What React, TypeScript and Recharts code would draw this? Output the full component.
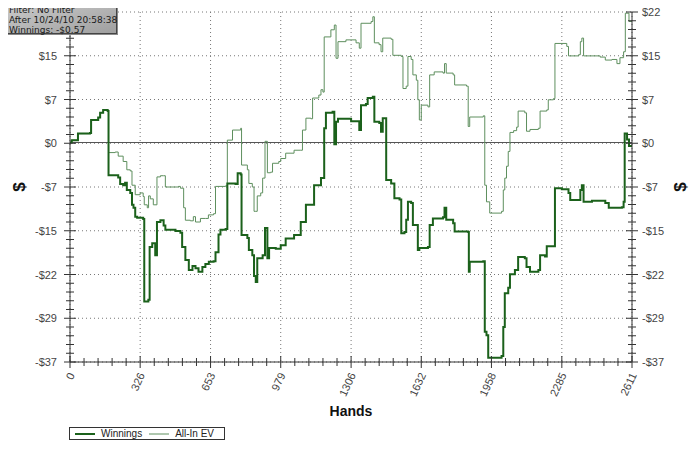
import { LineChart, Line, XAxis, YAxis, CartesianGrid, ReferenceLine, Legend } from "recharts";

// hands played vs running result
const winHands = [
  0, 8, 37, 93, 98, 131, 140, 154, 175, 179, 224, 233, 247, 256, 264, 280, 288, 295, 303, 312,
  340, 345, 364, 370, 382, 396, 404, 420, 435, 443, 490, 513, 521, 536, 552, 569, 583, 597, 615, 629,
  645, 667, 676, 690, 699, 723, 731, 769, 779, 793, 797, 824, 831, 847, 855, 863, 870, 886, 895, 906,
  917, 925, 956, 979, 1002, 1041, 1072, 1096, 1134, 1166, 1181, 1189, 1220, 1228, 1236, 1245, 1306, 1344, 1352, 1375,
  1383, 1407, 1414, 1437, 1445, 1453, 1469, 1492, 1507, 1531, 1539, 1554, 1562, 1570, 1585, 1593, 1616, 1623, 1663, 1671,
  1686, 1733, 1740, 1748, 1780, 1787, 1850, 1853, 1857, 1920, 1927, 1935, 1943, 2005, 2013, 2020, 2036, 2044, 2067, 2082,
  2113, 2121, 2137, 2176, 2184, 2207, 2215, 2246, 2253, 2285, 2316, 2324, 2363, 2371, 2378, 2386, 2425, 2487, 2503, 2564,
  2572, 2577, 2588, 2597, 2611,
];
const winnings = [
  0, 0.4, 1.5, 1.6, 3.8, 4.2, 5.0, 5.5, 5.3, -5.5, -5.9, -7.0, -7.2, -6.8, -8.0, -8.5, -10.5, -11.0, -12.5, -12.7,
  -12.9, -26.8, -26.5, -17.6, -17.0, -19.0, -13.4, -13.1, -14.0, -14.7, -14.9, -15.2, -17.6, -19.8, -21.5, -20.8, -21.2, -21.8, -21.0, -20.5,
  -20.1, -20.0, -18.5, -15.5, -14.7, -14.6, -6.9, -7.0, -5.2, -5.4, -15.6, -16.1, -18.1, -19.0, -22.5, -23.5, -19.5, -19.5, -19.0, -14.4,
  -19.5, -17.8, -17.9, -17.3, -16.2, -15.6, -13.4, -10.5, -7.2, -6.0, 2.4, 5.0, 5.2, -0.3, 3.5, 4.0, 3.6, 2.1, 6.3, 6.5,
  7.5, 7.7, 3.5, 3.3, 1.8, 4.1, -6.3, -6.9, -9.4, -9.6, -15.3, -15.1, -13.0, -10.0, -10.2, -13.9, -18.1, -17.8, -17.6, -13.9,
  -12.8, -12.6, -11.0, -13.0, -13.6, -15.0, -15.1, -21.8, -20.1, -20.0, -31.9, -32.5, -36.3, -36.0, -31.1, -25.4, -24.5, -22.2, -21.5, -19.3,
  -19.5, -21.0, -21.8, -21.5, -19.0, -19.2, -17.5, -17.5, -7.7, -7.9, -8.5, -9.7, -9.7, -8.0, -7.2, -10.0, -9.8, -10.2, -11.0, -10.9,
  -10.0, 1.5, 0.5, -0.6, -0.57,
];

const evHands = [
  0, 8, 37, 93, 98, 131, 140, 154, 175, 179, 210, 224, 247, 264, 280, 288, 303, 326, 340, 345,
  359, 365, 373, 387, 404, 420, 434, 443, 504, 513, 528, 536, 559, 573, 583, 606, 629, 643, 667, 676,
  723, 731, 755, 793, 797, 824, 831, 847, 855, 863, 870, 886, 895, 906, 917, 932, 941, 970, 979, 1002,
  1041, 1072, 1080, 1096, 1119, 1127, 1156, 1166, 1175, 1181, 1212, 1228, 1236, 1245, 1282, 1329, 1344, 1352, 1399, 1407,
  1414, 1436, 1445, 1453, 1492, 1500, 1539, 1547, 1562, 1570, 1585, 1593, 1609, 1616, 1623, 1632, 1663, 1671, 1692, 1733,
  1740, 1748, 1780, 1787, 1842, 1850, 1857, 1920, 1927, 1935, 1950, 2005, 2013, 2020, 2028, 2036, 2044, 2061, 2075, 2082,
  2113, 2121, 2137, 2176, 2184, 2215, 2222, 2246, 2253, 2308, 2316, 2363, 2371, 2378, 2386, 2463, 2487, 2518, 2541, 2555,
  2572, 2580, 2597, 2611,
];
const allInEv = [
  0, 0.4, 1.5, 1.6, 3.8, 4.2, 5.0, 5.5, 5.3, -1.7, -1.6, -2.3, -3.2, -4.6, -4.8, -7.2, -8.8, -8.5, -9.1, -10.5,
  -11.0, -9.0, -9.5, -10.5, -5.8, -5.6, -5.6, -7.5, -7.4, -7.7, -11.0, -13.1, -13.2, -12.5, -13.4, -12.8, -12.8, -12.2, -12.0, -7.4,
  -7.3, 0.4, 2.1, 2.4, -3.8, -4.6, -6.9, -7.5, -11.6, -11.6, -9.0, -8.5, -6.0, 0.2, -5.1, -5.0, -3.5, -3.2, -2.7, -1.8,
  -1.3, -1.3, 2.1, 4.1, 4.0, 7.5, 8.0, 8.9, 8.5, 17.8, 19.0, 19.8, 14.2, 17.0, 17.3, 16.8, 15.9, 20.1, 20.4, 21.2,
  16.8, 16.5, 15.3, 17.6, 17.4, 14.7, 14.5, 9.1, 9.5, 14.5, 14.0, 11.4, 10.5, 7.2, 3.8, 6.3, 6.0, 11.4, 11.9, 11.7,
  13.3, 11.7, 11.4, 9.7, 9.5, 2.7, 4.3, 4.5, -7.2, -10.0, -11.9, -11.6, -8.0, -6.0, -4.0, -1.5, 1.7, 2.0, 2.6, 5.3,
  5.0, 1.9, 2.2, 2.4, 5.3, 5.5, 7.2, 7.4, 16.7, 16.2, 14.6, 14.8, 17.0, 17.6, 14.6, 14.4, 13.9, 14.0, 13.3, 14.3,
  15.3, 21.8, 20.4, 20.6,
];

const xTicks = [0, 326, 653, 979, 1306, 1632, 1958, 2285, 2611];
const xTickLabels = ["0", "326", "653", "979", "1306", "1632", "1958", "2285", "2611"];
const yTicks = [22, 14.625, 7.25, -0.125, -7.5, -14.875, -22.25, -29.625, -37];
const yTickLabels = ["$22", "$15", "$7", "$0", "-$7", "-$15", "-$22", "-$29", "-$37"];

const infoLines = ["Filter: No Filter", "After 10/24/10 20:58:38", "Winnings: -$0.57"];

const WIN = "#1b611b";
const EV = "#5e8f5e";
const AXIS = "#333";
const FONT = "'Liberation Sans', Arial, sans-serif";

const winData = winHands.map((h, i) => ({ hand: h, value: winnings[i] }));
const evData = evHands.map((h, i) => ({ hand: h, value: allInEv[i] }));

// 4 minor ticks between each pair of labelled ticks
function withMinor(major: number[]) {
  const out: number[] = [];
  major.forEach((v, i) => {
    out.push(v);
    if (i < major.length - 1) {
      const step = (major[i + 1] - v) / 5;
      for (let k = 1; k < 5; k++) out.push(v + step * k);
    }
  });
  return out;
}
const xAll = withMinor(xTicks);
const yAll = withMinor(yTicks);

function BottomTick({ x, y, payload }: any) {
  const idx = xTicks.indexOf(payload.value);
  const len = idx >= 0 ? 6 : 4;
  return (
    <g>
      <line x1={x} x2={x} y1={y - len} y2={y + len} stroke={AXIS} />
      {idx >= 0 && (
        <text
          x={x + 5}
          y={y + 13}
          transform={`rotate(-65 ${x + 5} ${y + 13})`}
          textAnchor="end"
          fontSize={11}
          fontFamily={FONT}
          fill="#444"
        >
          {xTickLabels[idx]}
        </text>
      )}
    </g>
  );
}

function TopTick({ x, y, payload }: any) {
  const major = xTicks.indexOf(payload.value) >= 0;
  return <line x1={x} x2={x} y1={y - (major ? 5 : 3)} y2={y + (major ? 5 : 3)} stroke={AXIS} />;
}

function LeftTick({ x, y, payload }: any) {
  const idx = yTicks.indexOf(payload.value);
  const len = idx >= 0 ? 6 : 4;
  return (
    <g>
      <line x1={x - len} x2={x + len} y1={y} y2={y} stroke={AXIS} />
      {idx >= 0 && (
        <text x={x - 13} y={y} textAnchor="end" dominantBaseline="central" fontSize={11} fontFamily={FONT} fill="#444">
          {yTickLabels[idx]}
        </text>
      )}
    </g>
  );
}

function RightTick({ x, y, payload }: any) {
  const idx = yTicks.indexOf(payload.value);
  const len = idx >= 0 ? 6 : 4;
  return (
    <g>
      <line x1={x - len} x2={x + len} y1={y} y2={y} stroke={AXIS} />
      {idx >= 0 && (
        <text x={x + 10} y={y} textAnchor="start" dominantBaseline="central" fontSize={11} fontFamily={FONT} fill="#444">
          {yTickLabels[idx]}
        </text>
      )}
    </g>
  );
}

function DollarLabel({ viewBox, dx = 0 }: any) {
  if (!viewBox) return null;
  const cx = viewBox.x + viewBox.width / 2 + dx;
  const cy = viewBox.y + viewBox.height / 2;
  return (
    <text
      x={cx}
      y={cy}
      transform={`rotate(-90 ${cx} ${cy})`}
      textAnchor="middle"
      dominantBaseline="central"
      fontSize={17}
      fontWeight="bold"
      fontFamily={FONT}
      fill="#111"
    >
      $
    </text>
  );
}

function LegendBox() {
  const items = [
    { name: "Winnings", color: WIN, width: 2 },
    { name: "All-In EV", color: EV, width: 1 },
  ];
  return (
    <div
      style={{
        display: "flex",
        alignItems: "center",
        border: "1px solid #333",
        height: 11,
        padding: "0 4px",
        fontFamily: FONT,
        fontSize: 10,
        color: "#222",
        background: "#fff",
        boxSizing: "content-box",
        width: "fit-content",
      }}
    >
      {items.map((it) => (
        <span key={it.name} style={{ display: "flex", alignItems: "center", marginRight: 6 }}>
          <svg width={22} height={6} style={{ marginRight: 5 }}>
            <line x1={1} x2={21} y1={3} y2={3} stroke={it.color} strokeWidth={it.width} />
          </svg>
          {it.name}
        </span>
      ))}
    </div>
  );
}

// the little filter box in the top-left corner, drawn in svg
function InfoBox() {
  return (
    <svg width={116} height={36} style={{ position: "absolute", left: 6, top: 3, zIndex: 2 }}>
      <defs>
        <linearGradient id="infoFill" x1="0" y1="0" x2="1" y2="1">
          <stop offset="0%" stopColor="#cbcbcb" />
          <stop offset="100%" stopColor="#9f9f9f" />
        </linearGradient>
      </defs>
      <rect x={2} y={2} width={110} height={30} fill="#8a8a8a" />
      <rect x={0.5} y={0.5} width={110} height={30} fill="url(#infoFill)" stroke="#444" />
      {infoLines.map((t, i) => (
        <text
          key={t}
          x={3}
          y={9.5 + i * 10}
          fontSize={9}
          fontFamily="'DejaVu Sans', sans-serif"
          fill="#1a1a1a"
        >
          {t}
        </text>
      ))}
    </svg>
  );
}

export default function App() {
  return (
    <div style={{ position: "relative", width: 700, height: 450, margin: -8, background: "#fff" }}>
      <LineChart width={700} height={450} margin={{ top: 12, right: 0, bottom: 0, left: 0 }}>
        <CartesianGrid
          stroke="#777"
          strokeDasharray="1 3"
          horizontalValues={yTicks}
          verticalValues={xTicks}
        />
        <XAxis
          dataKey="hand"
          type="number"
          domain={[0, 2611]}
          allowDataOverflow
          ticks={xAll}
          interval={0}
          tick={<BottomTick />}
          tickLine={false}
          tickSize={0}
          tickMargin={0}
          axisLine={{ stroke: AXIS }}
          height={88}
          label={{
            value: "Hands",
            position: "insideBottom",
            offset: 34,
            style: { fontSize: 14, fontWeight: "bold", fontFamily: FONT, fill: "#111" },
          }}
        />
        <XAxis
          xAxisId="top"
          orientation="top"
          dataKey="hand"
          type="number"
          domain={[0, 2611]}
          allowDataOverflow
          ticks={xAll}
          interval={0}
          tick={<TopTick />}
          tickLine={false}
          tickSize={0}
          tickMargin={0}
          axisLine={{ stroke: AXIS }}
          height={0}
        />
        <YAxis
          type="number"
          domain={[-37, 22]}
          allowDataOverflow
          ticks={yAll}
          interval={0}
          tick={<LeftTick />}
          tickLine={false}
          tickSize={0}
          tickMargin={0}
          axisLine={{ stroke: AXIS }}
          width={70}
          label={<DollarLabel dx={-16} />}
        />
        <YAxis
          yAxisId="right"
          orientation="right"
          type="number"
          domain={[-37, 22]}
          allowDataOverflow
          ticks={yAll}
          interval={0}
          tick={<RightTick />}
          tickLine={false}
          tickSize={0}
          tickMargin={0}
          axisLine={{ stroke: AXIS }}
          width={68}
          label={<DollarLabel dx={14} />}
        />
        <ReferenceLine y={0} stroke="#555" strokeWidth={1.2} />
        <Line
          data={evData}
          dataKey="value"
          name="All-In EV"
          type="stepAfter"
          stroke={EV}
          strokeWidth={1}
          dot={false}
          isAnimationActive={false}
        />
        <Line
          data={winData}
          dataKey="value"
          name="Winnings"
          type="stepAfter"
          stroke={WIN}
          strokeWidth={2}
          dot={false}
          isAnimationActive={false}
        />
        <Legend
          layout="horizontal"
          verticalAlign="middle"
          align="center"
          wrapperStyle={{ position: "absolute", left: 69, top: 427, width: "auto", height: 13 }}
          content={() => <LegendBox />}
        />
      </LineChart>
      <InfoBox />
      <div
        style={{
          position: "absolute",
          inset: 0,
          border: "2px solid #2a2a2a",
          pointerEvents: "none",
          zIndex: 3,
        }}
      />
    </div>
  );
}
